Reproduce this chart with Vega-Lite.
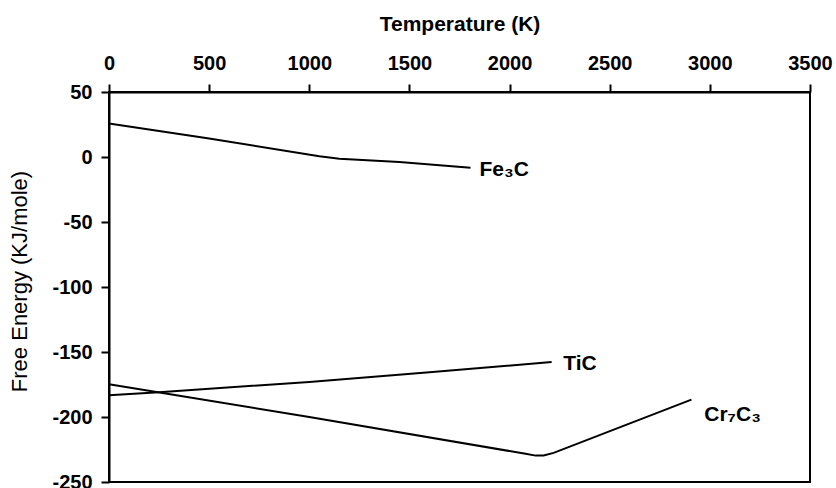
{
  "$schema": "https://vega.github.io/schema/vega-lite/v6.json",
  "width": 701,
  "height": 390,
  "autosize": {"type": "none"},
  "padding": {"left": 109, "top": 92, "right": 26, "bottom": 6},
  "background": "white",
  "config": {
    "font": "Liberation Sans",
    "view": {"stroke": "black", "strokeWidth": 2},
    "axis": {
      "grid": false,
      "domainColor": "black",
      "domainWidth": 2,
      "tickColor": "black",
      "tickWidth": 2,
      "tickSize": 8,
      "labelColor": "black",
      "labelFont": "Liberation Sans",
      "labelFontWeight": "bold",
      "labelFontSize": 20,
      "titleColor": "black",
      "titleFont": "Liberation Sans",
      "titleFontSize": 21
    }
  },
  "datasets": {
    "curves": [
      {"compound": "Fe3C", "T": 0, "G": 25.7},
      {"compound": "Fe3C", "T": 500, "G": 14.3},
      {"compound": "Fe3C", "T": 1050, "G": 0.5},
      {"compound": "Fe3C", "T": 1150, "G": -1.3},
      {"compound": "Fe3C", "T": 1450, "G": -3.8},
      {"compound": "Fe3C", "T": 1805, "G": -8.2},
      {"compound": "TiC", "T": 0, "G": -183.2},
      {"compound": "TiC", "T": 250, "G": -181.0},
      {"compound": "TiC", "T": 1000, "G": -173.0},
      {"compound": "TiC", "T": 1600, "G": -165.5},
      {"compound": "TiC", "T": 2210, "G": -157.7},
      {"compound": "Cr7C3", "T": 0, "G": -174.8},
      {"compound": "Cr7C3", "T": 1000, "G": -200.0},
      {"compound": "Cr7C3", "T": 2080, "G": -228.3},
      {"compound": "Cr7C3", "T": 2130, "G": -229.7},
      {"compound": "Cr7C3", "T": 2170, "G": -229.6},
      {"compound": "Cr7C3", "T": 2220, "G": -227.6},
      {"compound": "Cr7C3", "T": 2908, "G": -186.6}
    ],
    "labels": [
      {"name": "Fe₃C", "T": 1850, "G": -14.8},
      {"name": "TiC", "T": 2268, "G": -164.1},
      {"name": "Cr₇C₃", "T": 2972, "G": -202.9}
    ]
  },
  "layer": [
    {
      "data": {"name": "curves"},
      "mark": {"type": "line", "color": "black", "strokeWidth": 2},
      "encoding": {
        "x": {
          "field": "T", "type": "quantitative",
          "scale": {"domain": [0, 3500], "nice": false},
          "axis": {
            "orient": "top",
            "title": "Temperature (K)",
            "titleFontWeight": "bold",
            "titleColor": "black",
            "values": [0, 500, 1000, 1500, 2000, 2500, 3000, 3500],
            "labelExpr": "datum.value + ''",
            "labelPadding": 11,
            "labelFlush": false,
            "titleY": -58
          }
        },
        "y": {
          "field": "G", "type": "quantitative",
          "scale": {"domain": [-250, 50], "nice": false, "zero": false},
          "axis": {
            "title": "Free Energy (KJ/mole)",
            "titleFontWeight": "normal",
            "titleFontSize": 22,
            "titleColor": "#000000",
            "values": [-250, -200, -150, -100, -50, 0, 50],
            "labelExpr": "datum.value + ''",
            "labelPadding": 9,
            "labelFlush": false,
            "titleX": -78,
            "titleY": 189
          }
        },
        "detail": {"field": "compound", "type": "nominal"},
        "order": {"field": "T", "type": "quantitative"}
      }
    },
    {
      "data": {"name": "labels"},
      "mark": {
        "type": "text",
        "align": "left",
        "baseline": "alphabetic",
        "font": "Liberation Sans",
        "fontWeight": "bold",
        "fontSize": 21,
        "color": "black"
      },
      "encoding": {
        "x": {"field": "T", "type": "quantitative"},
        "y": {"field": "G", "type": "quantitative"},
        "text": {"field": "name", "type": "nominal"}
      }
    }
  ]
}
